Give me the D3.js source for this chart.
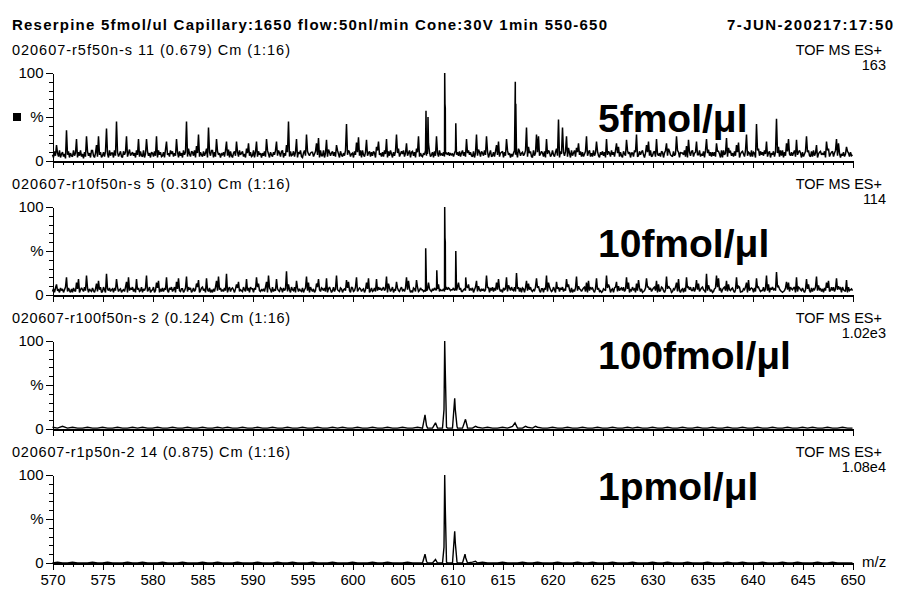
<!DOCTYPE html>
<html>
<head>
<meta charset="utf-8">
<script src="https://cdn.jsdelivr.net/npm/d3@7/dist/d3.min.js"></script>
<style>
  body { margin: 0; background: #fff; }
  svg { display: block; }
  text { font-family: "Liberation Sans", Arial, sans-serif; fill: #000; }
</style>
</head>
<body>
<div id="chart"></div>
<script>
// ---- data ---------------------------------------------------------------
const titleText = "Reserpine 5fmol/ul Capillary:1650 flow:50nl/min Cone:30V 1min 550-650";
const dateText = "7-JUN-200217:17:50";
const scanNames = [
  "020607-r5f50n-s 11 (0.679) Cm (1:16)",
  "020607-r10f50n-s 5 (0.310) Cm (1:16)",
  "020607-r100f50n-s 2 (0.124) Cm (1:16)",
  "020607-r1p50n-2 14 (0.875) Cm (1:16)"
];
const modeText = "TOF MS ES+";
const fullScale = ["163", "114", "1.02e3", "1.08e4"];
const concLabels = ["5fmol/\u03bcl", "10fmol/\u03bcl", "100fmol/\u03bcl", "1pmol/\u03bcl"];
const mzTickLabels = [570, 575, 580, 585, 590, 595, 600, 605, 610, 615, 620, 625, 630, 635, 640, 645, 650];
const pctTickLabels = [0, 50, 100];

// background trace, % of base peak, one row per nominal mass, every 0.1 m/z from 570
const noise5 = [
  7,4,11,6,18,9,5,12,4,8,  10,5,8,3,35,7,11,4,9,6,  5,12,6,9,25,4,10,6,12,5,
  8,3,10,5,28,11,6,9,4,12,  12,6,4,9,18,5,28,7,10,4,  6,10,5,11,37,8,4,12,6,9,
  9,4,12,6,45,10,5,8,11,5,  4,11,7,10,28,5,9,13,6,8,  10,6,9,4,12,7,25,5,11,6,
  5,12,4,8,25,11,6,9,4,10,  9,5,11,6,28,4,12,7,10,5,  6,10,4,13,22,7,9,5,12,8,
  11,5,9,6,25,10,4,11,6,9,  4,12,7,10,45,5,14,8,5,11,  10,6,12,4,17,9,30,5,10,7,
  5,11,6,9,14,4,38,10,6,12,  12,4,10,5,25,11,7,9,4,8,  7,10,5,12,22,6,13,4,11,6,
  4,9,11,6,22,10,5,12,7,9,  11,5,8,4,14,9,20,6,10,5,  6,12,4,10,22,5,11,7,9,4,
  9,6,11,5,25,12,8,4,10,7,  5,10,7,12,22,6,12,9,5,11,  12,4,9,6,18,10,45,5,11,6,
  7,11,5,10,25,4,10,8,12,5,  4,9,12,6,30,11,8,6,9,10,  10,5,8,11,20,7,26,4,12,6,
  6,12,4,9,24,5,13,10,6,9,  11,6,10,5,18,12,8,4,11,7,  5,9,6,12,42,7,12,10,5,8,
  9,4,11,7,21,10,27,6,12,4,  12,7,5,10,24,6,9,11,5,10,  6,11,9,4,16,12,22,7,9,5,
  10,5,12,8,25,4,11,6,12,8,  4,10,6,11,30,9,14,5,8,11,  8,12,5,9,20,6,9,12,4,10,
  11,6,10,4,14,10,28,5,9,6,  5,9,7,12,6,8,20,10,5,7,  10,4,11,6,28,9,5,12,7,8,
  6,10,5,8,9,7,10,6,9,7,  8,5,9,12,7,10,6,11,5,9,  12,6,10,5,25,9,12,7,10,6,
  5,11,4,9,30,6,13,10,5,11,  9,6,12,7,28,11,4,8,12,5,  6,10,5,11,18,7,22,5,9,10,
  11,4,10,6,25,12,7,9,4,8,  5,9,12,7,10,4,14,11,6,9,  10,6,8,12,38,5,16,9,11,5,
  4,12,6,9,30,10,28,6,8,11,  9,5,11,4,25,8,12,10,5,7,  12,7,5,10,14,6,47,4,11,8,
  38,10,6,11,28,5,15,9,4,12,  6,9,12,5,15,10,20,7,11,5,  10,5,8,11,28,6,10,12,5,9,
  5,12,6,9,22,11,6,4,10,7,  11,6,10,4,25,7,11,9,5,12,  7,10,5,12,20,9,16,5,10,6,
  4,11,8,6,24,12,8,10,4,9,  9,5,12,10,30,5,6,11,7,10,  12,7,4,9,18,10,22,6,12,5,
  6,10,11,5,25,8,6,9,5,11,  10,4,9,12,20,6,14,11,7,6,  5,11,6,8,28,12,10,4,10,9,
  9,7,12,5,17,4,24,10,6,11,  12,5,9,10,22,7,7,12,5,8,  6,11,4,12,25,9,13,6,10,5,
  10,6,10,5,20,11,11,8,4,12,  4,12,7,9,26,5,15,10,11,6,  9,5,11,6,18,10,21,4,8,10,
  11,8,5,12,30,6,10,9,5,12,  5,10,9,4,42,12,14,6,11,7,  10,6,12,8,22,5,9,11,4,9,
  7,11,5,10,48,9,16,5,12,6,  12,4,10,6,20,11,25,8,6,10,  6,9,12,5,24,7,10,12,9,4,
  10,5,8,11,28,10,12,6,5,11,  5,12,6,9,18,4,8,10,11,7,  9,7,11,4,22,12,14,5,8,10,
  11,5,9,12,25,6,20,9,4,8,  6,10,5,8,16,11,9,5,10,6,
  7
];
const noise10 = [
  4,7,3,8,12,5,6,3,8,5,  7,3,6,9,20,4,8,5,3,7,  3,8,5,4,14,7,18,3,6,8,
  6,4,9,5,22,8,3,7,5,4,  8,5,3,7,13,4,16,6,9,3,  4,9,6,3,24,7,5,8,4,6,
  7,3,8,5,18,9,4,6,7,3,  5,6,4,9,15,3,20,5,8,6,  9,4,7,3,18,6,8,4,5,9,
  3,7,5,8,22,4,6,9,3,5,  6,9,3,5,14,8,16,3,7,4,  8,4,7,6,20,5,3,8,6,9,
  4,6,9,3,15,7,19,5,4,7,  7,3,5,8,21,4,9,6,8,3,  5,8,4,6,13,9,17,3,5,8,
  9,5,7,3,19,6,4,8,3,6,  3,7,4,9,16,5,21,6,8,4,  6,4,8,5,24,3,7,9,4,7,
  8,6,3,7,12,8,15,4,6,5,  4,9,6,4,18,5,8,3,9,7,  7,3,8,6,20,9,13,5,4,6,
  5,7,4,9,15,3,22,8,6,3,  9,4,6,5,18,7,5,4,8,7,  3,8,5,7,27,4,12,6,3,9,
  6,5,9,3,16,8,4,7,5,4,  8,3,6,8,21,5,14,3,9,6,  4,7,3,5,13,9,18,6,4,8,
  7,5,8,4,19,3,7,9,6,3,  5,9,4,7,22,6,5,4,8,7,  3,6,7,5,17,8,15,5,3,9,
  8,4,5,9,20,4,6,8,7,4,  6,7,3,6,14,7,19,3,5,8,  4,5,8,4,18,5,9,6,8,5,
  7,9,5,7,21,3,13,8,4,6,  9,3,6,5,15,8,5,4,7,9,  5,6,4,8,20,6,16,7,3,5,
  3,8,7,4,17,9,4,5,8,6,  6,4,5,4,5,6,14,7,5,4,  7,5,8,6,6,7,12,4,6,5,
  5,7,4,6,9,6,8,7,5,6,  6,8,5,7,5,9,14,6,8,4,  4,6,7,5,10,8,12,5,7,6,
  8,3,6,9,16,4,10,6,4,7,  5,7,4,6,22,8,9,3,8,5,  9,4,8,5,14,6,18,7,4,6,
  3,8,6,7,20,4,11,8,5,9,  6,5,9,4,25,7,9,4,8,3,  8,7,3,8,16,5,13,6,9,5,
  4,6,5,9,19,8,10,5,3,7,  7,3,8,6,22,4,14,9,6,4,  5,9,6,3,15,7,9,4,8,6,
  9,4,7,5,18,9,12,6,3,8,  3,6,4,8,21,5,10,7,6,4,  6,8,9,4,14,3,16,5,9,7,
  8,5,3,7,19,6,8,4,5,3,  4,7,6,5,22,8,12,9,3,6,  7,3,8,9,15,4,10,5,7,8,
  5,9,4,6,20,7,14,3,6,5,  9,6,7,3,13,5,17,8,4,7,  3,4,5,8,19,9,9,6,8,4,
  6,8,9,5,16,3,12,4,5,9,  8,5,3,6,21,7,10,8,7,3,  4,7,6,9,14,4,18,5,3,6,
  7,3,8,4,20,8,9,6,9,5,  5,9,4,7,17,6,13,4,6,8,  9,6,5,3,24,5,11,7,4,6,
  3,4,7,8,22,9,19,5,8,3,  6,8,9,5,16,4,12,6,5,7,  8,5,3,6,20,7,10,9,3,4,
  4,7,6,9,14,3,17,5,7,8,  7,3,8,4,19,8,9,6,4,5,  5,9,4,7,22,5,12,3,8,6,
  9,6,7,5,26,9,10,7,5,4,  3,4,5,8,15,6,14,4,9,7,  6,8,9,3,20,4,9,8,6,5,
  8,5,3,6,18,7,12,5,3,8,  4,7,6,9,21,5,11,6,7,4,  7,3,8,5,14,8,16,4,5,9,
  5,9,4,7,19,6,10,7,8,3,  9,6,5,4,17,3,9,5,6,7,
  5
];
// background trace sampled every 0.5 m/z from 570
const base100 = [
  2,1,3,1,2,1,1,2,1,1, 2,1,1,2,1,1,2,1,2,1,
  1,2,1,1,2,1,1,2,1,1, 2,1,1,2,1,2,1,1,2,1,
  1,2,1,1,2,1,1,2,1,1, 2,1,1,2,1,1,2,1,2,1,
  1,2,1,1,2,1,1,2,1,1, 2,1,1,2,1,1,1,1,1,1,
  1,1,1,1,1,2,1,2,1,1, 2,1,3,1,1,2,1,2,1,1,
  2,1,1,2,1,1,2,1,1,2, 1,1,2,1,1,2,1,2,1,1,
  2,1,1,2,1,1,2,1,1,2, 1,1,2,1,1,2,1,1,2,1,
  1,2,1,1,2,1,1,2,1,1, 2,1,2,1,1,2,1,1,2,1,
  1
];
const base1p = [
  0,1,0,0,1,0,0,0,1,0, 0,1,0,0,0,1,0,0,1,0,
  0,0,1,0,0,0,1,0,0,0, 1,0,0,1,0,0,0,1,0,0,
  0,1,0,0,0,1,0,0,1,0, 0,0,1,0,0,0,1,0,0,0,
  1,0,0,0,1,0,0,1,0,0, 0,1,0,0,0,0,0,0,0,0,
  0,0,0,0,1,0,1,0,0,0, 1,0,0,0,1,0,0,1,0,0,
  0,1,0,0,0,1,0,0,1,0, 0,0,1,0,0,0,1,0,0,0,
  1,0,0,1,0,0,0,1,0,0, 0,1,0,0,0,1,0,0,1,0,
  0,0,1,0,0,0,1,0,0,1, 0,0,0,1,0,0,1,0,0,0,
  0
];
// resolved ions [m/z, %]
const ions5 = [[607.35, 57], [607.45, 22], [607.55, 50], [609.22, 100], [609.25, 65], [609.28, 60],
  [610.33, 43], [616.28, 90], [616.33, 65]];
const ions10 = [[607.32, 53], [607.36, 30], [608.43, 28], [609.22, 100], [609.25, 65], [609.28, 60],
  [610.33, 50], [611.32, 20]];
const ions100 = [[607.25, 16], [607.4, 4], [608.3, 7], [609.15, 22], [609.22, 100], [609.28, 65],
  [609.4, 2], [610.22, 35], [610.28, 22], [610.45, 3], [611.3, 11], [611.45, 4], [612.3, 3],
  [616.25, 7], [617.3, 3], [618.3, 3]];
const ions1p = [[607.25, 10], [607.4, 2], [608.3, 4], [609.15, 18], [609.22, 100], [609.28, 62],
  [609.4, 1], [610.22, 36], [610.28, 23], [610.45, 1], [611.25, 10], [611.32, 6], [612.3, 2]];

// ---- layout -------------------------------------------------------------
const W = 898, H = 591;
const axisBase = [161, 295, 429, 563];   // y of 0 %
const plotH = 88;
const labelBase = [132, 257, 369, 500];

const svg = d3.select("#chart").append("svg").attr("width", W).attr("height", H);

const x = d3.scaleLinear().domain([570, 650]).range([52.5, 852.5]);

function trace(values, step, ions) {
  const pts = values.map((v, i) => [570 + i * step, v]).concat(ions);
  return pts.sort((a, b) => a[0] - b[0]);
}
const traces = [
  trace(noise5, 0.1, ions5),
  trace(noise10, 0.1, ions10),
  trace(base100, 0.5, ions100),
  trace(base1p, 0.5, ions1p)
];
const traceWidth = [1.5, 1.5, 1.4, 1.4];

// header
svg.append("text").attr("x", 12).attr("y", 30)
  .attr("font-size", 15).attr("font-weight", "bold")
  .attr("textLength", 595).attr("lengthAdjust", "spacing").text(titleText);
svg.append("text").attr("x", 893).attr("y", 30).attr("text-anchor", "end")
  .attr("font-size", 15).attr("font-weight", "bold")
  .attr("textLength", 166).attr("lengthAdjust", "spacing").text(dateText);

traces.forEach((data, k) => {
  const base = axisBase[k];
  const y = d3.scaleLinear().domain([0, 100]).range([base, base - plotH]);
  const g = svg.append("g");

  g.append("text").attr("x", 12).attr("y", base - plotH - 18)
    .attr("font-size", 14.5).attr("textLength", 278).attr("lengthAdjust", "spacing")
    .text(scanNames[k]);
  g.append("text").attr("x", 882).attr("y", base - plotH - 18).attr("text-anchor", "end")
    .attr("font-size", 14.5).text(modeText);
  g.append("text").attr("x", 886).attr("y", base - plotH - 3).attr("text-anchor", "end")
    .attr("font-size", 14.5).text(fullScale[k]);

  // spectrum
  g.append("path").datum(data)
    .attr("fill", "none").attr("stroke", "#000").attr("stroke-width", traceWidth[k])
    .attr("stroke-linejoin", "miter").attr("stroke-miterlimit", 2)
    .attr("d", d3.line().x(d => x(d[0])).y(d => y(d[1])));

  // intensity axis
  const yMinor = d3.axisLeft(y).tickValues(d3.range(0, 101, 10)).tickSize(4)
    .tickSizeOuter(0).tickFormat("");
  const yMajor = d3.axisLeft(y).tickValues(pctTickLabels).tickSize(7).tickSizeOuter(0)
    .tickPadding(2).tickFormat(v => v === 50 ? "%" : String(v));
  [yMinor, yMajor].forEach(ax => {
    const a = g.append("g").attr("transform", `translate(${x.range()[0]},0)`).call(ax);
    a.selectAll("path,line").attr("stroke", "#000").attr("shape-rendering", "crispEdges");
    a.selectAll("text").attr("font-size", 15).attr("font-family", "Liberation Sans, Arial, sans-serif");
  });

  // m/z axis
  const xMinor = d3.axisBottom(x).tickValues(d3.range(570, 651, 1)).tickSize(4)
    .tickSizeOuter(0).tickFormat("");
  const xMajor = d3.axisBottom(x).tickValues(mzTickLabels).tickSize(7).tickSizeOuter(0)
    .tickPadding(4).tickFormat(k === 3 ? d3.format("d") : "");
  [xMinor, xMajor].forEach(ax => {
    const a = g.append("g").attr("transform", `translate(0,${base})`).call(ax);
    a.selectAll("path,line").attr("stroke", "#000").attr("shape-rendering", "crispEdges");
    a.select(".domain").attr("stroke-width", 2);
    a.selectAll("text").attr("font-size", 15).attr("font-family", "Liberation Sans, Arial, sans-serif");
  });

  if (k === 0) {
    g.append("rect").attr("x", 13).attr("y", y(50) - 4).attr("width", 8).attr("height", 8)
      .attr("fill", "#000");
  }
  if (k === 3) {
    g.append("text").attr("x", 862).attr("y", base + 4).attr("font-size", 15).text("m/z");
  }

  g.append("text").attr("x", 598).attr("y", labelBase[k])
    .attr("font-size", 39).attr("font-weight", "bold").text(concLabels[k]);
});
</script>
</body>
</html>
